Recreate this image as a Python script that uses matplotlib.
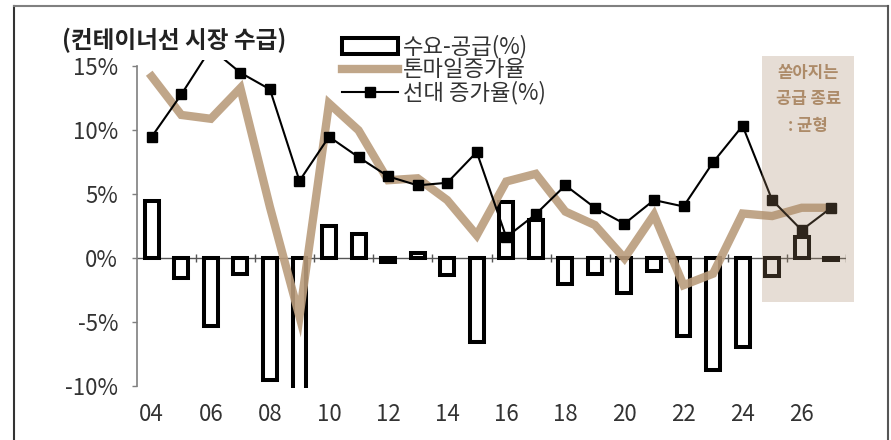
import matplotlib
matplotlib.use("Agg")
import matplotlib.pyplot as plt
from matplotlib.patches import Rectangle
from matplotlib.lines import Line2D
import numpy as np

plt.rcParams['font.family'] = ['Noto Sans CJK KR', 'DejaVu Sans']

years = list(range(2004, 2028))
tick_labels = ['04', '06', '08', '10', '12', '14', '16', '18', '20', '22', '24', '26']

# 수요-공급 (%)
supply_gap = [4.5, -1.55, -5.25, -1.2, -9.5, -11.5, 2.5, 1.9, -0.3, 0.4,
              -1.3, -6.5, 4.4, 3.0, -2.0, -1.2, -2.7, -1.0, -6.1, -8.7,
              -6.9, -1.4, 1.65, -0.1]
# 톤마일 증가율 (%)
tonmile_growth = [14.2, 11.2, 10.9, 13.3, 4.0, -4.55, 12.1, 10.0, 6.1, 6.25,
                  4.55, 1.8, 6.0, 6.6, 3.65, 2.6, 0.0, 3.4, -2.1, -1.2,
                  3.5, 3.3, 3.95, 3.95]
# 선대 증가율 (%)
fleet_growth = [9.5, 12.8, 16.4, 14.5, 13.2, 6.05, 9.5, 7.9, 6.4, 5.7,
                5.9, 8.3, 1.65, 3.45, 5.7, 3.95, 2.7, 4.55, 4.05, 7.5,
                10.35, 4.55, 2.2, 3.95]

labels = ['수요-공급(%)', '톤마일증가율', '선대 증가율(%)']
box_lines = ['쏟아지는', '공급 종료', ': 균형']

W, H = 891, 440
fig = plt.figure(figsize=(W / 100, H / 100), dpi=100)
ax = fig.add_axes([137 / W, 1 - 387.6 / H, (846 - 137) / W, (387.6 - 59.9) / H])

x = np.array(years)
bars = ax.bar(x, supply_gap, width=0.47, facecolor='white', edgecolor='black',
              linewidth=2.9, zorder=2)
tan_line, = ax.plot(x, tonmile_growth, color='#BA9C7C', lw=6.0, alpha=0.9,
                    solid_joinstyle='miter', zorder=3)
fleet_line, = ax.plot(x, fleet_growth, color='black', lw=1.5, marker='s',
                      markersize=6.5, zorder=4)

ax.set_xlim(2003.5, 2027.5)
ax.set_ylim(-10.1, 15.5)

# zero line with category-group ticks
ax.axhline(0, color='#555555', lw=1.0, zorder=1)
bounds = np.arange(2005.5, 2028, 2)
ax.vlines(bounds, -0.3, 0.3, color='#555555', lw=1.0, zorder=1)

for side in ['top', 'right', 'bottom']:
    ax.spines[side].set_visible(False)
ax.spines['left'].set_bounds(-10, 15)
ax.spines['left'].set_color('#7f7f7f')
ax.spines['left'].set_linewidth(1.2)

yt = [-10, -5, 0, 5, 10, 15]
ax.set_yticks(yt)
ax.set_yticklabels([f'{v}%' for v in yt])
ax.tick_params(axis='y', direction='out', length=3.6, width=1.0, color='#7f7f7f',
               pad=10, labelsize=16, labelcolor='#333333')

ax.set_xticks(years[::2])
ax.set_xticklabels(tick_labels)
ax.tick_params(axis='x', length=0, pad=11, labelsize=16, labelcolor='#333333')

# shaded outlook region
ax.add_patch(Rectangle((2024.66, -3.41), 2027.77 - 2024.66, 15.8 + 3.41,
                       facecolor='#A88868', edgecolor='none', alpha=0.28,
                       zorder=10, clip_on=False))
for txt, yv in zip(box_lines, [14.5, 12.45, 10.35]):
    ax.text(2026.22, yv, txt, ha='center', va='center', fontsize=12,
            fontweight='bold', color='#AD8B69', zorder=11, clip_on=False)

fig.text(62 / W, 1 - 40 / H, '(컨테이너선 시장 수급)', fontsize=17,
         fontweight='bold', color='#222222', ha='left', va='center')

# legend: one row per series, tightly stacked
for handle, lab, yc in zip([bars, tan_line, fleet_line], labels, [47, 70, 93]):
    fig.legend([handle], [lab], loc='center left',
               bbox_to_anchor=(342 / W, 1 - yc / H), frameon=False, fontsize=16,
               handlelength=2.5, handletextpad=0.25, borderpad=0,
               borderaxespad=0, labelcolor='#333333')

# outer frame
fig.add_artist(Line2D([14 / W, 14 / W], [0, 1 - 6 / H], color='#333333', lw=1.5))
fig.add_artist(Line2D([14 / W, 888 / W], [1 - 6 / H, 1 - 6 / H], color='#808080', lw=1.5))
fig.add_artist(Line2D([888 / W, 888 / W], [0, 1 - 6 / H], color='#555555', lw=1.5))

fig.savefig('out.png', dpi=100)
